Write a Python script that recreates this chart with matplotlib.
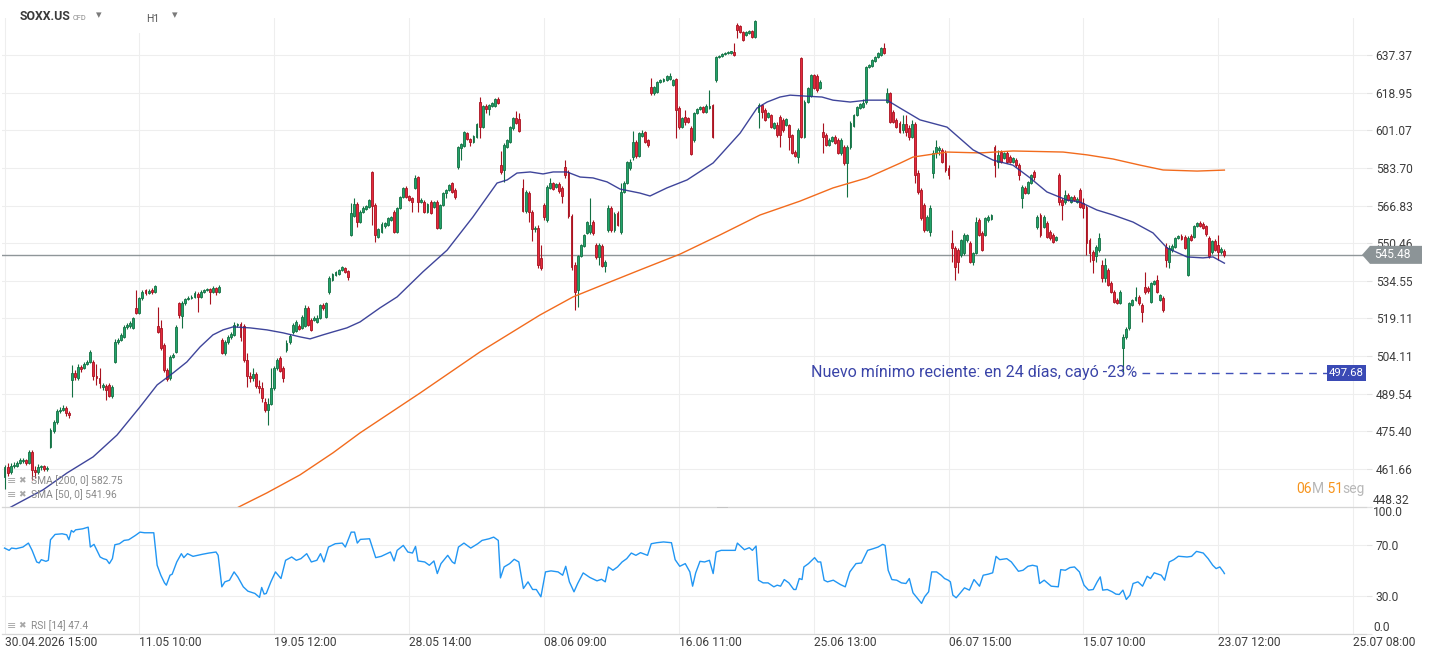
import numpy as np
import matplotlib
matplotlib.use("Agg")
import matplotlib.pyplot as plt
from matplotlib.patches import Polygon, Rectangle
from matplotlib.transforms import IdentityTransform, blended_transform_factory
from matplotlib.ticker import FixedLocator, FixedFormatter, NullLocator

plt.rcParams['font.family'] = ['Roboto', 'DejaVu Sans']

# ---------------- data (H1 candles, bar index 0 = 30.04.2026 15:00) ----------------
open_ = [
458.8,462.4,460.6,462.7,462.7,463.8,464.5,464.9,463.8,467.8,
461.3,460.6,462.4,462.7,461.6,469.7,475.5,478.9,483.0,483.4,
484.1,482.3,494.8,497.5,495.6,499.9,499.5,501.0,501.8,501.8,
496.4,495.6,492.1,492.5,492.9,488.6,501.8,509.7,510.5,511.7,
515.7,516.1,515.3,523.4,521.3,527.5,530.8,529.5,530.8,529.9,
516.1,515.3,508.5,498.7,495.6,503.7,505.7,525.4,520.1,525.4,
527.1,527.5,527.9,529.1,527.9,529.9,530.8,531.2,529.9,531.6,
529.9,510.5,505.3,509.7,511.7,512.5,516.5,516.9,516.1,502.6,
496.4,495.6,497.1,492.5,491.7,486.4,483.4,485.6,491.7,499.5,
503.3,499.5,506.5,509.7,513.7,514.1,516.1,515.3,516.1,523.4,
518.5,518.5,517.7,519.3,524.6,519.7,529.9,534.9,537.0,537.4,
539.1,540.0,538.7,554.0,562.3,567.5,559.6,564.0,565.3,566.2,
581.9,567.1,553.1,555.3,557.9,558.3,560.5,564.0,555.3,565.8,
570.6,574.7,571.1,570.2,574.7,579.6,568.4,568.4,564.0,568.4,
566.2,568.4,557.0,567.1,572.4,573.8,576.9,573.8,584.1,592.9,
593.8,599.8,597.1,595.7,598.0,614.5,602.6,612.6,611.2,612.6,
612.6,615.9,585.0,582.8,593.4,595.7,602.2,606.9,606.4,574.7,
564.4,572.4,564.0,556.6,557.0,544.2,567.1,560.5,574.7,576.9,
575.1,576.5,574.7,584.1,581.9,562.3,541.2,530.8,545.0,549.2,
554.9,555.3,559.6,549.7,544.6,549.2,540.8,556.2,565.8,556.2,
563.6,555.3,572.9,576.9,583.7,588.7,595.7,589.2,598.4,600.3,
596.6,621.7,618.8,619.2,624.1,624.6,625.1,625.6,622.7,625.6,
611.6,602.6,607.4,606.9,602.2,596.6,609.3,611.2,612.1,609.8,
611.6,613.1,625.1,636.4,636.9,637.9,638.4,638.4,638.9,652.5,
652.0,649.0,647.5,648.5,649.5,646.5,609.8,613.1,610.7,607.4,
608.3,602.2,603.6,607.4,606.0,603.6,603.6,598.9,591.0,588.7,
635.9,598.0,614.5,617.3,627.6,627.1,621.2,600.3,598.9,594.3,
596.1,598.0,596.6,590.6,593.4,586.0,593.4,603.1,608.3,611.6,
612.1,614.5,631.5,632.0,634.4,636.4,637.4,640.9,614.5,618.8,
609.8,606.0,604.5,601.2,604.1,602.2,598.0,604.1,581.4,573.8,
567.1,556.2,555.3,581.4,590.6,592.0,592.0,590.6,583.7,550.5,
548.4,547.5,545.4,546.3,551.8,550.5,542.5,546.3,560.5,554.9,
554.0,560.5,560.9,593.4,586.4,591.0,588.3,590.6,588.7,586.4,
587.3,585.0,570.2,574.7,572.4,576.9,581.9,557.5,562.7,557.5,
559.2,555.3,554.0,551.8,580.5,569.3,568.4,571.5,568.4,570.6,
568.4,573.8,567.9,566.2,551.8,546.7,545.0,547.5,541.2,535.7,
539.1,533.6,529.9,526.7,525.4,507.3,511.7,515.3,524.6,526.7,
527.9,524.6,532.0,531.6,525.8,533.2,534.9,526.7,527.5,548.8,
542.5,547.5,548.8,552.7,553.6,553.1,537.0,553.6,553.1,557.9,
559.2,558.8,557.9,552.7,546.7,551.4,549.7,546.7,547.1]

high = [
463.1,463.8,463.8,464.2,464.5,465.7,465.7,465.3,468.6,468.6,
462.7,463.5,463.1,463.1,462.7,476.6,479.6,483.8,484.5,485.3,
484.9,483.0,500.6,498.7,501.0,500.6,501.8,502.6,506.5,502.6,
501.0,499.5,493.6,493.3,493.6,492.9,510.9,511.3,513.3,516.5,
517.3,518.1,519.7,530.8,527.9,530.8,531.2,531.2,531.6,532.8,
523.8,518.5,509.3,499.5,504.5,505.3,516.5,525.8,526.3,527.5,
528.3,528.7,530.4,529.9,530.8,531.2,531.6,531.6,532.4,532.0,
532.8,511.3,510.5,512.5,513.7,517.7,517.3,517.7,516.9,505.3,
497.9,499.5,497.9,494.8,494.0,487.9,487.9,499.5,500.2,503.3,
504.1,500.2,510.5,512.9,517.3,518.5,516.9,520.5,524.6,524.2,
519.3,520.1,520.5,525.0,525.4,525.8,536.6,537.8,538.7,539.5,
540.8,540.4,539.1,567.9,570.2,568.4,564.9,566.6,567.1,569.7,
582.3,567.9,557.0,559.6,559.6,561.8,562.3,564.9,566.2,571.1,
575.1,575.6,571.5,570.6,580.5,580.1,570.2,569.3,567.9,569.3,
568.8,569.3,567.5,572.9,574.2,576.5,577.4,574.7,593.8,595.2,
600.8,600.3,597.5,598.9,604.5,616.9,613.1,613.5,613.5,614.5,
616.4,616.9,591.5,595.2,597.1,603.1,607.4,610.2,609.3,578.7,
573.8,573.3,564.9,557.9,558.3,549.7,567.9,576.0,579.2,577.4,
576.9,577.4,575.6,587.3,582.8,563.1,542.5,545.4,550.1,554.4,
560.1,570.2,560.5,550.5,550.5,550.1,543.3,567.1,566.6,564.0,
564.4,576.9,577.8,586.9,587.8,600.8,596.6,600.3,601.2,600.8,
597.1,626.1,622.2,624.6,625.6,626.1,627.6,628.6,625.6,626.1,
612.6,607.4,610.7,607.4,603.1,609.8,611.6,612.6,612.6,613.5,
620.2,613.5,636.9,637.4,638.4,638.9,639.4,639.4,643.4,653.5,
652.5,649.5,649.5,650.0,650.0,655.0,614.0,613.5,611.6,609.8,
608.8,605.0,605.0,608.3,606.9,606.9,604.1,599.4,592.0,602.2,
636.4,615.4,621.7,628.1,628.1,628.1,625.1,604.5,599.8,597.5,
598.4,598.9,597.5,597.5,594.3,594.3,605.5,608.8,612.6,614.0,
615.9,632.0,633.0,635.4,636.9,638.9,641.4,643.4,621.2,619.2,
610.7,606.9,605.5,608.3,608.3,603.6,606.0,605.0,582.8,574.7,
567.9,562.7,567.1,592.0,596.6,593.8,592.9,592.0,585.0,556.2,
549.2,548.4,552.2,554.9,554.4,551.4,546.7,561.8,561.4,555.7,
561.8,562.7,563.1,594.3,592.0,592.0,591.0,591.5,589.7,588.7,
588.3,586.0,576.0,575.6,577.8,581.0,582.8,562.7,563.6,562.7,
560.1,556.2,554.9,553.6,581.4,570.2,573.8,572.4,571.1,571.5,
570.6,574.7,570.2,567.1,552.7,547.5,549.7,554.9,543.3,544.2,
540.0,534.5,530.8,527.5,530.8,512.9,515.7,525.8,527.1,532.0,
528.7,525.4,538.3,532.4,534.1,534.9,537.0,529.1,528.3,550.5,
549.7,550.1,553.1,554.0,554.4,554.0,553.6,554.4,558.3,559.6,
560.1,559.6,558.3,553.6,551.8,552.2,554.0,548.8,548.0]

low = [
454.5,459.1,459.8,462.0,462.4,463.5,463.8,463.1,463.5,457.7,
458.4,459.8,461.3,460.9,460.9,469.3,474.8,478.1,482.3,483.0,
481.1,480.4,488.3,494.8,494.8,497.9,499.1,500.6,501.4,494.8,
492.9,491.7,490.9,487.1,488.3,487.9,501.4,508.9,510.1,511.3,
514.9,515.3,514.9,520.9,520.9,526.7,528.7,529.1,529.1,529.5,
513.3,506.5,497.9,494.4,494.8,503.3,505.3,519.3,515.3,524.6,
526.7,527.1,527.5,521.7,527.5,529.5,530.4,525.0,529.5,528.7,
529.5,504.9,504.5,508.9,510.9,512.1,515.7,510.1,501.8,492.1,
494.0,494.4,491.7,489.8,486.4,482.6,477.8,485.3,490.9,498.7,
497.9,494.0,505.7,508.9,512.9,513.7,514.5,514.9,515.7,516.1,
514.1,518.1,517.3,518.9,522.6,519.3,529.1,534.5,536.6,537.0,
538.7,537.8,534.9,553.6,561.8,557.5,559.2,563.6,564.9,565.8,
558.3,550.9,552.7,554.9,557.0,557.9,560.1,554.9,554.9,565.3,
570.2,570.2,568.8,564.0,574.2,564.0,567.9,563.6,563.6,563.1,
565.8,556.6,556.6,566.6,570.2,573.3,572.4,569.7,583.2,587.3,
593.4,596.6,593.8,595.2,597.5,597.5,602.2,609.3,608.3,612.1,
612.1,613.5,581.0,577.4,592.9,595.2,601.2,604.1,600.3,564.0,
563.6,559.6,551.4,555.3,540.0,539.1,560.5,559.6,574.2,573.8,
574.7,572.4,567.9,579.2,561.4,539.1,522.6,523.8,544.6,548.8,
554.4,554.4,554.0,543.8,541.2,540.4,538.3,555.3,555.3,555.3,
557.9,554.4,572.4,576.5,582.8,587.3,588.3,588.7,598.0,595.2,
593.4,617.8,617.8,618.8,623.7,624.1,624.6,625.1,622.2,597.5,
601.7,602.2,603.6,604.5,589.7,595.7,608.8,610.7,609.3,609.3,
611.2,597.5,624.1,635.9,636.4,637.4,637.9,637.9,636.9,646.0,
648.5,644.4,647.0,648.0,646.0,646.0,602.2,606.9,605.5,606.9,
602.2,601.7,598.0,593.4,600.3,603.1,592.0,590.1,588.7,586.0,
597.5,597.5,614.0,616.9,620.7,619.2,620.7,590.6,593.8,593.8,
595.7,594.7,590.1,589.7,585.0,570.6,592.4,602.6,607.9,611.2,
611.6,613.5,631.0,631.5,633.9,635.9,636.9,637.9,614.0,604.5,
604.5,602.2,599.8,599.8,598.4,596.6,597.5,576.9,572.0,560.5,
555.3,555.7,553.6,579.2,588.3,589.7,586.0,581.9,578.7,542.5,
534.9,537.8,544.6,545.4,550.9,542.1,541.2,545.8,553.6,547.1,
553.6,559.6,560.5,579.6,583.7,586.0,587.8,586.0,586.0,586.0,
584.1,578.3,565.8,572.0,572.0,576.5,578.3,556.6,553.1,557.0,
552.7,551.8,550.5,551.4,567.1,560.5,567.5,568.8,567.9,568.8,
567.9,565.8,561.4,545.4,542.5,537.8,542.5,546.7,534.1,534.1,
532.4,529.5,525.4,525.0,525.0,497.68,510.9,514.5,524.2,526.3,
524.6,517.7,529.1,529.5,525.4,532.8,529.5,526.3,521.7,540.4,
540.0,546.7,548.4,552.2,551.8,548.0,536.6,551.4,552.7,557.5,
557.5,556.6,553.6,544.2,545.8,547.1,543.3,545.8,544.6]

close = [
462.4,460.2,462.7,463.1,463.8,464.9,464.9,463.8,467.8,461.3,
460.6,462.4,462.7,461.6,462.0,475.9,478.9,483.0,483.4,484.1,
482.3,481.5,497.5,496.0,499.9,499.1,501.0,501.8,505.7,496.4,
495.6,493.6,492.9,490.9,488.6,492.1,509.7,510.5,512.5,515.7,
516.5,517.3,519.3,521.3,527.5,529.9,529.5,530.4,529.9,532.4,
513.7,507.3,498.7,495.2,503.7,504.5,515.7,520.5,525.4,527.1,
527.5,527.9,529.5,527.9,529.9,530.8,531.2,529.9,531.6,529.9,
532.0,505.3,509.7,511.7,512.9,516.5,516.9,511.7,502.6,496.4,
495.6,497.1,492.5,491.7,487.9,483.4,485.6,491.7,499.5,502.6,
498.3,495.6,509.3,512.1,516.5,517.7,514.9,519.7,523.4,516.5,
514.5,519.3,519.3,524.6,523.4,525.4,535.7,537.4,538.3,539.1,
540.4,538.3,536.2,563.6,567.5,559.6,564.0,565.8,566.6,569.3,
566.6,554.0,556.6,558.8,559.2,561.4,561.8,555.3,565.8,570.6,
574.7,570.6,569.3,568.4,579.2,568.4,569.3,564.0,567.5,563.6,
568.4,557.0,567.1,572.4,573.8,576.0,572.9,570.6,593.4,594.7,
600.3,597.1,595.7,598.4,604.1,602.6,612.6,611.2,613.1,614.0,
615.9,614.0,581.9,594.3,596.6,602.6,606.9,604.5,600.8,564.4,
572.9,564.0,556.6,557.0,541.2,540.0,561.8,575.1,576.9,574.2,
576.5,573.3,571.1,580.5,562.3,540.4,529.9,545.0,549.7,554.0,
559.6,558.3,554.9,544.6,549.7,540.8,542.5,565.8,556.2,563.1,
558.3,572.9,576.9,586.4,586.4,595.7,589.2,599.8,599.8,595.7,
594.3,618.8,621.7,624.1,625.1,625.6,627.1,627.1,625.1,610.7,
602.6,606.9,605.0,605.0,590.1,609.3,611.2,612.1,609.8,612.6,
612.6,598.0,636.4,636.9,637.9,638.4,638.9,639.4,637.4,650.0,
649.0,644.9,649.0,649.5,646.5,654.5,613.1,609.8,606.0,609.3,
602.6,604.5,598.9,598.9,601.2,606.4,598.0,590.6,589.2,601.2,
598.0,614.5,621.2,627.6,621.2,620.2,624.1,598.0,594.3,596.6,
598.0,595.2,590.6,596.6,586.0,593.4,604.5,608.3,612.1,613.5,
614.0,631.5,632.5,634.9,636.4,638.4,640.9,638.4,618.8,605.0,
605.0,602.6,600.3,604.1,600.3,598.0,604.1,580.5,572.9,561.4,
556.2,561.8,565.8,590.6,593.4,592.9,586.4,582.8,580.5,548.4,
540.4,542.5,551.8,554.0,554.0,542.5,546.3,559.6,554.0,547.5,
561.4,561.8,562.7,585.0,589.7,586.4,590.6,586.4,586.4,588.3,
585.0,580.5,575.1,572.4,577.4,580.5,579.6,561.8,554.0,561.8,
553.1,552.7,550.9,553.1,568.4,567.1,571.5,569.3,570.6,569.3,
569.7,566.2,565.8,550.5,546.3,543.3,548.8,552.7,535.7,541.2,
532.8,529.9,525.8,525.4,529.9,511.7,514.9,525.4,526.7,527.9,
525.4,521.7,529.9,530.4,533.6,534.5,529.9,528.7,522.6,543.3,
548.4,549.2,552.7,553.6,552.2,548.4,552.7,551.8,557.9,559.2,
557.9,557.0,554.4,545.0,551.4,547.5,546.7,548.0,545.48]

# moving averages (bar index, value)
sma50_bar = [0, 3.4, 12.6, 20.4, 28.9, 36.7, 44.2, 49.8, 55.0, 59.5, 63.8, 68.0, 71.3, 74.6,
             80.1, 85.6, 90.9, 96.4, 99.7, 103.9, 107.2, 111.7, 116.0, 122.5, 128.1, 136.5,
             144.4, 152.8, 160.7, 164.0, 167.2, 171.5, 175.7, 179.0, 183.5, 187.8, 192.0,
             196.6, 200.8, 207.3, 210.6, 216.1, 222.7, 231.2, 240.0, 245.5, 248.8, 253.0,
             256.3, 261.8, 266.7, 270.3, 275.9, 281.4, 287.9, 292.2, 298.7, 307.5, 316.0,
             322.5, 329.0, 334.6, 340.1, 346.6, 350.9, 356.4, 361.7, 368.2, 374.7, 379.3,
             385.8, 391.0, 394.3, 398.0]
sma50_val = [446.9, 448.9, 454.2, 460.2, 466.0, 474.0, 484.5, 492.9, 497.5, 501.8, 507.7, 512.5,
             514.5, 515.7, 515.3, 514.5, 513.3, 511.7, 510.9, 512.5, 513.7, 515.3, 517.7, 523.4,
             527.9, 538.3, 547.5, 561.8, 576.9, 578.3, 581.4, 581.9, 581.0, 581.9, 581.9, 579.6,
             579.2, 577.4, 574.2, 572.4, 571.1, 574.7, 578.3, 586.0, 599.8, 611.6, 614.5, 616.9,
             617.8, 617.3, 616.9, 615.4, 614.5, 615.4, 615.4, 611.6, 606.0, 602.6, 592.0, 587.3,
             585.0, 579.2, 572.9, 569.3, 568.4, 564.9, 562.7, 559.6, 554.9, 548.4, 544.6, 544.2,
             544.6, 541.96]
sma200_bar = [75.8, 77.8, 85.6, 96.4, 107.2, 116.0, 135.6, 155.1, 174.7, 185.5, 196.6, 207.3,
              220.4, 233.4, 246.5, 259.5, 270.3, 281.4, 292.2, 296.4, 307.5, 318.3, 329.0,
              345.4, 353.2, 361.7, 370.5, 378.0, 389.1, 398.0]
sma200_val = [447.8, 448.9, 453.1, 459.5, 467.5, 474.8, 489.8, 505.7, 520.5, 527.9, 533.6, 539.1,
              545.8, 554.0, 562.7, 568.8, 574.7, 579.2, 585.9, 588.7, 591.0, 590.6, 591.5, 591.0,
              589.7, 587.8, 585.0, 582.8, 582.3, 582.75]

# RSI(14)
rsi_bar = [0, 1.5, 2.3, 3.8, 6.0, 7.8, 9.0, 10.5, 11.3, 12.0, 13.5, 14.3, 15.0, 16.5, 18.8, 20.3,
           21.0, 21.8, 22.5, 23.2, 25.5, 27.3, 28.0, 29.2, 31.2, 32.2, 33.3, 34.2, 35.2, 36.0,
           37.5, 39.0, 40.5, 42.7, 44.2, 45.7, 48.7, 49.8, 51.0, 52.2, 52.8, 54.0, 54.7, 56.2,
           57.7, 58.5, 59.7, 61.5, 64.5, 66.7, 69.0, 69.7, 70.9, 71.9, 73.4, 74.9, 76.1, 77.9,
           79.4, 81.7, 83.2, 83.9, 84.7, 85.4, 86.9, 88.4, 90.2, 91.7, 93.7, 95.2, 96.7, 98.6,
           100.1, 101.9, 103.1, 104.2, 105.7, 107.9, 110.2, 111.2, 113.1, 114.2, 115.1, 116.1,
           119.1, 121.1, 122.9, 125.9, 127.1, 128.1, 130.1, 131.6, 133.1, 134.1, 134.9, 137.1,
           138.6, 140.1, 141.2, 142.4, 144.6, 146.1, 146.9, 148.1, 149.9, 152.1, 154.4, 155.8,
           158.1, 159.6, 161.1, 161.8, 163.0, 164.8, 166.3, 167.8, 169.3, 170.8, 172.3, 173.5,
           175.0, 176.5, 178.3, 180.6, 182.1, 183.1, 184.3, 185.8, 187.0, 188.8, 191.0, 193.3,
           194.8, 196.0, 197.0, 198.5, 200.0, 201.5, 203.0, 204.5, 206.0, 207.5, 209.8, 211.0,
           212.8, 215.0, 217.6, 218.8, 220.3, 222.1, 223.6, 224.5, 225.5,
           226.9, 228.4, 230.0, 231.2, 232.2, 233.8, 238.4, 239.1, 241.4, 243.0, 244.0, 245.2,
           246.0, 247.5, 249.1, 251.0, 252.1, 253.2, 254.4, 255.9, 257.5, 258.2, 259.3, 260.2,
           260.8, 262.3, 264.3, 265.4, 266.3, 267.4, 268.5, 270.4, 272.7, 274.3, 275.8, 277.8,
           279.6, 281.6, 283.4, 285.0, 286.5, 287.3, 288.3, 289.5, 291.1, 292.6, 294.1, 295.2,
           296.4, 297.9, 299.2, 300.2, 301.5, 302.5, 304.1, 305.6, 306.7, 307.9, 308.6, 309.4,
           310.5, 311.7, 313.2, 314.8, 316.3, 318.1, 319.3, 320.9, 322.4, 323.5, 324.7, 327.0,
           328.5, 330.8, 332.3, 333.9, 335.4, 336.9, 337.7, 339.2, 341.5, 343.8, 344.6, 346.1,
           347.6, 349.1, 350.7, 352.2, 353.7, 355.2, 356.5, 357.5, 358.3, 359.8, 361.4, 362.6,
           363.7, 364.9, 366.0, 367.2, 368.2, 369.8, 371.3, 372.8, 373.9, 375.1, 377.4, 378.5,
           380.0, 381.5, 383.0, 385.8, 387.3, 388.9, 391.1, 392.7, 394.2, 395.3, 396.5, 397.7,
           398.0]
rsi_val = [67.4, 65.6, 67.4, 66.9, 68.2, 71.3, 65.6, 56.5, 55.7, 58.3, 57.0, 57.8, 73.9, 78.1, 78.6,
           77.8, 73.9, 81.2, 79.9, 81.7, 82.5, 83.8, 68.2, 70.3, 60.4, 59.1, 58.3, 55.2, 59.1, 70.0,
           70.8, 73.4, 73.9, 77.3, 79.9, 79.4, 79.4, 53.9, 46.1, 40.1, 38.3, 46.1, 46.9, 56.5,
           63.0, 59.9, 63.0, 60.9, 62.5, 63.5, 64.3, 61.7, 37.0, 40.9, 42.2, 48.7, 44.8, 37.0,
           33.6, 31.8, 28.7, 36.5, 31.3, 31.8, 40.9, 48.7, 43.5, 57.8, 60.4, 57.8, 59.1, 63.0,
           56.5, 57.8, 63.0, 56.5, 68.2, 70.8, 71.3, 68.2, 79.9, 79.9, 71.3, 74.2,
           74.7, 59.9, 60.9, 64.3, 57.3, 65.6, 69.5, 64.3, 63.5, 68.7, 57.3, 56.5,
           53.9, 57.3, 47.4, 55.2, 61.7, 56.5, 55.2, 68.2, 71.3, 67.4, 70.8, 73.4,
           74.7, 76.0, 73.4, 44.0, 52.6, 55.2, 58.6, 56.5, 35.7, 40.9, 34.9, 34.9,
           29.2, 48.7, 49.5, 48.7, 46.1, 53.1, 40.9, 33.1, 39.6, 47.9, 44.3, 41.7,
           42.9, 40.9, 52.6, 50.0, 52.6, 56.5, 59.1, 63.5, 61.7, 63.8, 61.7, 70.8,
           71.6, 72.2, 71.6, 58.3, 53.1, 55.2, 48.7, 37.5, 47.9,
           57.0, 56.5, 57.8, 47.4, 64.3, 65.6, 65.6, 71.3, 66.1, 67.7, 65.6, 69.0,
           42.2, 40.1, 40.1, 37.0, 38.3, 37.5, 42.7, 40.1, 34.9, 34.9, 43.5, 42.7,
           52.6, 55.2, 59.9, 56.5, 56.5, 42.2, 40.9, 42.2, 38.8, 37.0, 48.7, 55.2,
           55.7, 65.6, 66.9, 68.2, 70.3, 69.5, 50.0, 42.7, 42.2, 40.1, 39.6, 43.5,
           32.3, 27.9, 24.0, 29.2, 33.1, 48.7, 48.7, 46.1, 43.5, 42.2, 40.9, 30.5,
           28.4, 31.8, 36.2, 34.4, 42.7, 37.5, 46.1, 46.9, 48.0, 60.9, 58.3, 59.1,
           56.5, 49.2, 50.0, 53.1, 53.9, 53.1, 39.6, 42.2, 37.5, 37.0, 50.5, 50.0,
           52.1, 52.6, 48.7, 38.3, 34.4, 34.9, 40.9, 44.8, 34.4, 34.9, 33.1, 31.3,
           31.0, 34.4, 27.1, 30.5, 39.6, 40.9, 37.5, 45.3, 43.5, 48.0, 46.1, 42.2,
           56.5, 58.3, 61.0, 60.4, 60.9, 64.8, 63.5, 59.1, 53.9, 51.3, 52.6, 48.7,
           47.4]

price_ticks = [448.32, 461.66, 475.40, 489.54, 504.11, 519.11, 534.55, 550.46, 566.83,
               583.70, 601.07, 618.95, 637.37]
price_tick_labels = ['448.32', '461.66', '475.40', '489.54', '504.11', '519.11', '534.55',
                     '550.46', '566.83', '583.70', '601.07', '618.95', '637.37']
time_tick_bars = [0, 44, 88, 132, 176, 220, 264, 308, 352, 396, 440]
time_tick_labels = ['30.04.2026 15:00', '11.05 10:00', '19.05 12:00', '28.05 14:00',
                    '08.06 09:00', '16.06 11:00', '25.06 13:00', '06.07 15:00',
                    '15.07 10:00', '23.07 12:00', '25.07 08:00']
last_price = 545.48
recent_low = 497.68
low_bar = 365
sma200_last, sma50_last, rsi_last = 582.75, 541.96, 47.4
annotation = 'Nuevo mínimo reciente: en 24 días, cayó -23%'
countdown = [('06', '#f7941d'), ('M', '#b8b8b8'), (' 51', '#f7941d'), ('seg', '#b8b8b8')]

# ---------------- figure ----------------
W, H = 1434, 659
fig = plt.figure(figsize=(W / 100, H / 100), dpi=100)
fig.patch.set_facecolor('white')


def fx(px):
    return px / W


def fy(py):
    return 1 - py / H


L0, R0 = 2, 1366
ax = fig.add_axes([fx(L0), fy(506.5), fx(R0) - fx(L0), fy(18) - fy(506.5)])
rx = fig.add_axes([fx(L0), fy(634), fx(R0) - fx(L0), fy(506.5) - fy(634)], sharex=ax)

GRID = '#eeeeee'
TXT = '#3d3d3d'
GREEN, GREEN_E = '#22a36b', '#137043'
RED, RED_E = '#e5293d', '#a8121f'

O = np.array(open_)
Hh = np.array(high)
Ll = np.array(low)
Cc = np.array(close)
Hh = np.maximum(Hh, np.maximum(O, Cc))
Ll = np.minimum(Ll, np.minimum(O, Cc))
idx = np.arange(len(Cc))
up = Cc >= O

ax.set_yscale('log')
ax.vlines(idx[up], Ll[up], Hh[up], color=GREEN_E, lw=0.8, zorder=3)
ax.vlines(idx[~up], Ll[~up], Hh[~up], color=RED_E, lw=0.8, zorder=3)
bot = np.minimum(O, Cc)
ht = np.maximum(np.abs(Cc - O), 0.3)
ax.bar(idx[up], ht[up], bottom=bot[up], width=0.62, color=GREEN, edgecolor=GREEN_E,
       linewidth=0.6, zorder=4)
ax.bar(idx[~up], ht[~up], bottom=bot[~up], width=0.62, color=RED, edgecolor=RED_E,
       linewidth=0.6, zorder=4)

ax.plot(sma200_bar, sma200_val, color='#f26b1d', lw=1.0, zorder=5)
ax.plot(sma50_bar, sma50_val, color='#2a3190', lw=1.0, alpha=0.9, zorder=5)

ax.axhline(last_price, color='#8f9699', lw=1.0, zorder=2.5)

ax.set_xlim(-0.82, 444.2)
ax.set_ylim(448.32, 656.1)

ax.yaxis.tick_right()
ax.yaxis.set_major_locator(FixedLocator(price_ticks))
ax.yaxis.set_major_formatter(FixedFormatter([''] + price_tick_labels[1:]))
ax.yaxis.set_minor_locator(NullLocator())
ax.tick_params(axis='y', length=4, color='#e3e3e3', pad=3, labelsize=8.64, labelcolor=TXT)
ax.tick_params(axis='x', length=0, labelbottom=False)
ax.grid(True, color=GRID, lw=0.8)
ax.set_axisbelow(True)
for s in ax.spines.values():
    s.set_visible(False)

bt = blended_transform_factory(ax.transAxes, ax.transData)
ax.text(1 + 7 / 1364, price_ticks[0], price_tick_labels[0], transform=bt, ha='left',
        va='bottom', fontsize=8.64, color=TXT)

# RSI panel
rx.plot(rsi_bar, rsi_val, color='#2196f3', lw=1.0, zorder=3)
rx.set_ylim(0, 100)
rx.yaxis.tick_right()
rx.yaxis.set_major_locator(FixedLocator([0, 30, 70, 100]))
rx.yaxis.set_major_formatter(FixedFormatter(['', '30.0', '70.0', '']))
rx.tick_params(axis='y', length=4, color='#e3e3e3', pad=3, labelsize=8.64, labelcolor=TXT)
rx.set_xticks(time_tick_bars)
rx.set_xticklabels(time_tick_labels, ha='left')
rx.tick_params(axis='x', length=0, pad=1.5, labelsize=8.64, labelcolor=TXT)
rx.grid(True, color=GRID, lw=0.8)
rx.set_axisbelow(True)
for k, s in rx.spines.items():
    if k in ('left', 'right'):
        s.set_visible(False)
    else:
        s.set_color('#d6d6d6')
        s.set_linewidth(0.9)
bt2 = blended_transform_factory(rx.transAxes, rx.transData)
rx.text(1 + 7 / 1364, 100, '100.0', transform=bt2, ha='left', va='top', fontsize=8.64, color=TXT)
rx.text(1 + 7 / 1364, 0, '0.0', transform=bt2, ha='left', va='bottom', fontsize=8.64, color=TXT)
rx.set_xlim(-0.82, 444.2)

# recent-low annotation
yl = ax.transData.transform((0, recent_low))[1]
x_tag = ax.transData.inverted().transform((1327, yl))[0]
ax.plot([low_bar + 6, x_tag], [recent_low, recent_low], color='#3f4fb8', lw=1.0,
        dashes=(5.5, 4.5), zorder=6)
ax.text(low_bar + 4.5, recent_low * 0.9966, annotation, ha='right', va='baseline',
        fontsize=11.5, color='#3a44a8', zorder=7)
fig.add_artist(Rectangle((1327, yl - 8), 39, 16, transform=IdentityTransform(),
                         fc='#3a4ab5', ec='none', zorder=20))
fig.text(1346.5 / W, yl / H, f'{recent_low:.2f}', color='white', fontsize=8.2,
         ha='center', va='center', zorder=21)

# last price tag
yp = ax.transData.transform((0, last_price))[1]
verts = [(1362, yp), (1370, yp + 9), (1422, yp + 9), (1422, yp - 9), (1370, yp - 9)]
fig.add_artist(Polygon(verts, closed=True, transform=IdentityTransform(), fc='#8c9497',
                       ec='none', zorder=20))
fig.text(1374 / W, yp / H, f'{last_price:.2f}', color='white', fontsize=8.64,
         ha='left', va='center', zorder=21)

# header
fig.add_artist(Rectangle((130, H - 33), 70, 33, transform=IdentityTransform(),
                         fc='white', ec='none', zorder=10))
fig.text(fx(20), fy(17), 'SOXX.US', fontsize=8.8, fontweight='bold', color='#3a3a3a',
         ha='left', va='center', zorder=11)
fig.text(fx(73), fy(18), 'CFD', fontsize=5.3, color='#8a8a8a', ha='left', va='center', zorder=11)
fig.text(fx(96), fy(15), '▾', fontsize=8, color='#7a7a7a', ha='left', va='center', zorder=11)
fig.text(fx(146), fy(19), 'H1', fontsize=7.5, color='#555555', ha='left', va='center', zorder=11)
fig.text(fx(172), fy(15), '▾', fontsize=8, color='#7a7a7a', ha='left', va='center', zorder=11)

# indicator legends
for yy, lab in [(481, f'SMA [200, 0] {sma200_last:.2f}'), (495, f'SMA [50, 0] {sma50_last:.2f}'),
                (626, f'RSI [14] {rsi_last:.1f}')]:
    fig.text(fx(7), fy(yy), '≡', fontsize=8, color='#a8a8a8', ha='left', va='center', zorder=11)
    fig.text(fx(18), fy(yy), '✖', fontsize=6.5, color='#a8a8a8', ha='left', va='center', zorder=11)
    fig.text(fx(31), fy(yy), lab, fontsize=7.4, color='#8a8a8a', ha='left', va='center', zorder=11)

# countdown (pieces chained one after another)
prev = fig.text(fx(1296), fy(493), countdown[0][0], fontsize=10, color=countdown[0][1],
                ha='left', va='baseline', zorder=11)
for s, c in countdown[1:]:
    prev = ax.annotate(s, xy=(1, 0), xycoords=prev, xytext=(0, 0), textcoords='offset points',
                       fontsize=10, color=c, ha='left', va='bottom', zorder=11,
                       annotation_clip=False)

# panel resize handle
fig.add_artist(Rectangle((717, H - 508), 11, 1.5, transform=IdentityTransform(),
                         fc='#c4c4c4', ec='none', zorder=12))

fig.savefig('out.png', dpi=100, facecolor='white')
